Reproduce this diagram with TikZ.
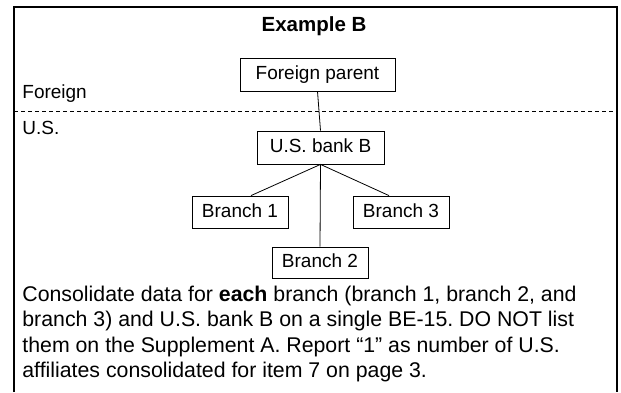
\documentclass[tikz,border=0pt]{standalone}
\usepackage{fontspec}
\setmainfont{Liberation Sans}
\frenchspacing

\begin{document}
\begin{tikzpicture}[x=1pt, y=-1pt, line width=0.8pt,
      every node/.append style={font=\fontsize{19}{26}\selectfont},
      entity/.style={draw, inner sep=0pt, minimum height=33pt, text height=14pt, text depth=4pt}]
    \useasboundingbox (0,0) rectangle (621,392);
    % frame, open at the bottom
    \draw[line width=2pt] (14,392) -- (14,7) -- (617,7) -- (617,392);
    \node (title) [anchor=base, font=\fontsize{20.5}{24}\selectfont\bfseries] at (314,31) {Example B};
    % border between Foreign and U.S.
    \coordinate (borderW) at (14,111);
    \coordinate (borderE) at (617,111);
    \draw[dash pattern=on 4pt off 3pt] (borderW) -- (borderE);
    \node (foreignlbl) [anchor=base west, inner sep=0pt] at (22,98) {Foreign};
    \node (uslbl) [anchor=base west, inner sep=0pt] at (22,134) {U.S.};
    \node (parent) [entity, minimum width=155pt] at (317.5,74.5) {Foreign parent};
    \node (bankB) [entity, minimum width=127pt] at (320.5,147.5) {U.S. bank B};
    \node (branchA) [entity, minimum width=96pt, minimum height=32pt] at (240,212) {Branch 1};
    \node (branchC) [entity, minimum width=96pt, minimum height=32pt] at (401,212) {Branch 3};
    \node (branchB) [entity, minimum width=96pt, minimum height=31pt] at (320,262.5) {Branch 2};
    \draw (parent.south) -- (bankB.north);
    \draw ([xshift=11pt]branchA.north) -- (bankB.south) -- ([xshift=-12pt]branchC.north);
    \draw (bankB.south) -- (branchB.north);
    \node (note) [anchor=north west, inner sep=0pt, align=left,
                  font=\fontsize{21.3}{25.5}\selectfont] at (22,285.5)
      {Consolidate data for \textbf{each} branch (branch 1, branch 2, and\\
       branch 3) and U.S. bank B on a single BE-15. DO NOT list\\
       them on the Supplement A. Report “1” as number of U.S.\\
       affiliates consolidated for item 7 on page 3.};
\end{tikzpicture}
\end{document}
